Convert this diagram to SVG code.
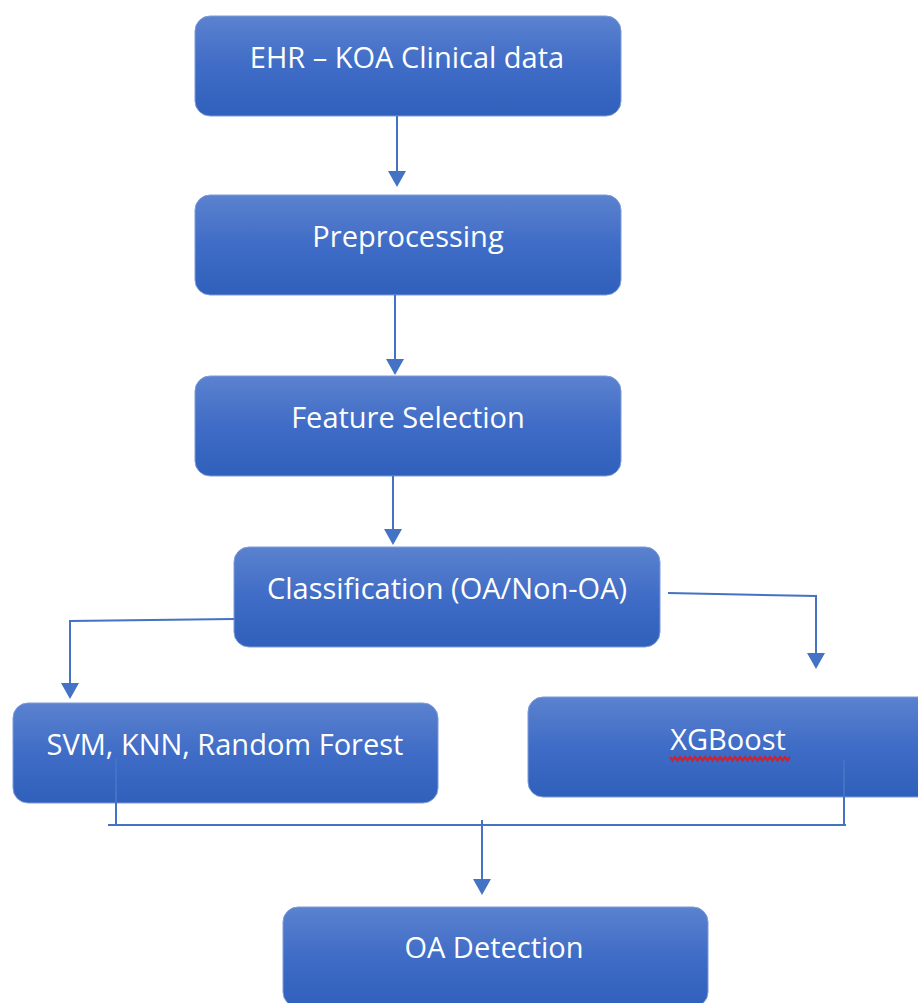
<svg xmlns="http://www.w3.org/2000/svg" width="918" height="1003" viewBox="0 0 918 1003">
<style>
.box{fill:url(#g);stroke:#7d9bd8;stroke-width:1}
.t{font-family:"Open Sans","Liberation Sans",sans-serif;font-size:29px;fill:#ffffff;text-anchor:middle}
.c{fill:none;stroke:#4472c4;stroke-width:2}
</style>
<defs>
<linearGradient id="g" x1="0" y1="0" x2="0" y2="1">
<stop offset="0" stop-color="#5b82cf"/>
<stop offset="0.5" stop-color="#3f6cc6"/>
<stop offset="1" stop-color="#2f60bb"/>
</linearGradient>
<marker id="ah" markerWidth="8" markerHeight="9" refX="7" refY="4.5" orient="auto" markerUnits="strokeWidth">
<path d="M0,0 L8,4.5 L0,9 Z" fill="#4472c4"/>
</marker>
</defs>
<rect width="918" height="1003" fill="#ffffff"/>
<g id="n1"><rect class="box" x="195" y="16" width="426" height="100" rx="15"/><text class="t" x="407" y="68">EHR – KOA Clinical data</text></g>
<g id="n2"><rect class="box" x="195" y="195" width="426" height="100" rx="15"/><text class="t" x="408" y="247">Preprocessing</text></g>
<g id="n3"><rect class="box" x="195" y="376" width="426" height="100" rx="15"/><text class="t" x="408" y="428">Feature Selection</text></g>
<g id="n4"><rect class="box" x="234" y="547" width="426" height="100" rx="15"/><text class="t" x="447" y="599">Classification (OA/Non-OA)</text></g>
<g id="n5"><rect class="box" x="13" y="703" width="425" height="100" rx="15"/><text class="t" x="225" y="755">SVM, KNN, Random Forest</text></g>
<g id="n6"><rect class="box" x="528" y="697" width="420" height="100" rx="15"/><text class="t" x="728" y="750">XGBoost</text>
<path d="M670,757 l2.5,3.5 l2.5,-3.5 l2.5,3.5 l2.5,-3.5 l2.5,3.5 l2.5,-3.5 l2.5,3.5 l2.5,-3.5 l2.5,3.5 l2.5,-3.5 l2.5,3.5 l2.5,-3.5 l2.5,3.5 l2.5,-3.5 l2.5,3.5 l2.5,-3.5 l2.5,3.5 l2.5,-3.5 l2.5,3.5 l2.5,-3.5 l2.5,3.5 l2.5,-3.5 l2.5,3.5 l2.5,-3.5 l2.5,3.5 l2.5,-3.5 l2.5,3.5 l2.5,-3.5 l2.5,3.5 l2.5,-3.5 l2.5,3.5 l2.5,-3.5 l2.5,3.5 l2.5,-3.5 l2.5,3.5 l2.5,-3.5 l2.5,3.5 l2.5,-3.5 l2.5,3.5 l2.5,-3.5 l2.5,3.5 l2.5,-3.5 l2.5,3.5 l2.5,-3.5 l2.5,3.5 l2.5,-3.5 l2.5,3.5 l2.5,-3.5" fill="none" stroke="#d0202a" stroke-width="2"/></g>
<g id="n7"><rect class="box" x="283" y="907" width="425" height="100" rx="15"/><text class="t" x="494" y="958">OA Detection</text></g>
<g id="connectors">
<path class="c" d="M397,116 V185" marker-end="url(#ah)"/>
<path class="c" d="M395,295 V373" marker-end="url(#ah)"/>
<path class="c" d="M393,476 V543" marker-end="url(#ah)"/>
<path class="c" d="M234,619 L70,621 V697" marker-end="url(#ah)"/>
<path class="c" d="M668,593 L816,596 V667" marker-end="url(#ah)"/>
<path class="c" d="M116,758 V825" stroke-width="1.5"/>
<path class="c" d="M844,760 V825" stroke-width="1.5"/>
<path class="c" d="M108,825 H846"/>
<path class="c" d="M482,820 V893" marker-end="url(#ah)"/>
</g>
</svg>
